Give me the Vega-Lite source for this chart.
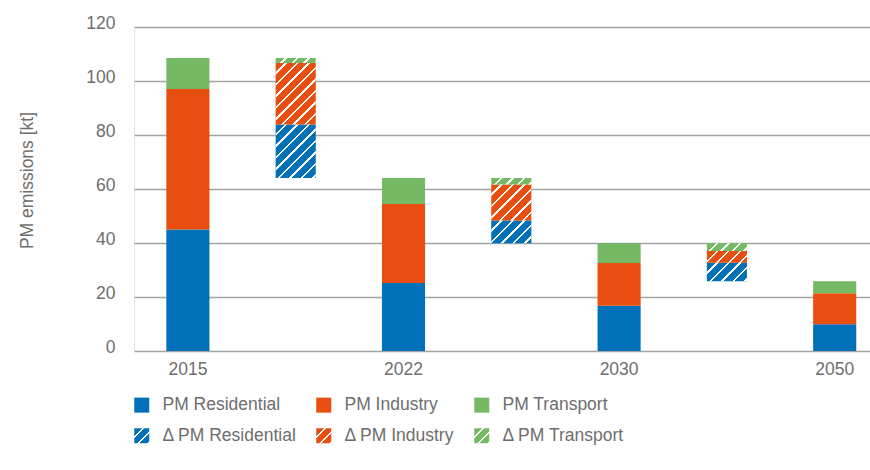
{
  "$schema": "https://vega.github.io/schema/vega-lite/v6.json",
  "autosize": "none",
  "padding": {"left": 134, "top": 27, "right": 0, "bottom": 119},
  "width": 736,
  "height": 324,
  "config": {
    "font": "Liberation Sans",
    "view": {"stroke": null},
    "axis": {"labelFont": "Liberation Sans", "titleFont": "Liberation Sans", "labelColor": "#6e6e6e", "titleColor": "#6e6e6e", "labelFontSize": 17.5, "titleFontSize": 17.5, "titleFontWeight": "normal"}
  },
  "data": {
    "values": [
      {"bar": "2015", "type": "level", "sector": "PM Residential", "k": 1, "v": 45.0},
      {"bar": "2015", "type": "level", "sector": "PM Industry", "k": 2, "v": 52.0},
      {"bar": "2015", "type": "level", "sector": "PM Transport", "k": 3, "v": 11.5},
      {"bar": "2015–2022", "type": "change", "sector": "Next total", "k": 0, "v": 64.1},
      {"bar": "2015–2022", "type": "change", "sector": "Δ PM Residential", "k": 1, "v": 19.8},
      {"bar": "2015–2022", "type": "change", "sector": "Δ PM Industry", "k": 2, "v": 22.8},
      {"bar": "2015–2022", "type": "change", "sector": "Δ PM Transport", "k": 3, "v": 1.8},
      {"bar": "2022", "type": "level", "sector": "PM Residential", "k": 1, "v": 25.2},
      {"bar": "2022", "type": "level", "sector": "PM Industry", "k": 2, "v": 29.2},
      {"bar": "2022", "type": "level", "sector": "PM Transport", "k": 3, "v": 9.7},
      {"bar": "2022–2030", "type": "change", "sector": "Next total", "k": 0, "v": 39.9},
      {"bar": "2022–2030", "type": "change", "sector": "Δ PM Residential", "k": 1, "v": 8.4},
      {"bar": "2022–2030", "type": "change", "sector": "Δ PM Industry", "k": 2, "v": 13.4},
      {"bar": "2022–2030", "type": "change", "sector": "Δ PM Transport", "k": 3, "v": 2.4},
      {"bar": "2030", "type": "level", "sector": "PM Residential", "k": 1, "v": 16.8},
      {"bar": "2030", "type": "level", "sector": "PM Industry", "k": 2, "v": 15.8},
      {"bar": "2030", "type": "level", "sector": "PM Transport", "k": 3, "v": 7.3},
      {"bar": "2030–2050", "type": "change", "sector": "Next total", "k": 0, "v": 25.8},
      {"bar": "2030–2050", "type": "change", "sector": "Δ PM Residential", "k": 1, "v": 6.9},
      {"bar": "2030–2050", "type": "change", "sector": "Δ PM Industry", "k": 2, "v": 4.3},
      {"bar": "2030–2050", "type": "change", "sector": "Δ PM Transport", "k": 3, "v": 2.9},
      {"bar": "2050", "type": "level", "sector": "PM Residential", "k": 1, "v": 9.9},
      {"bar": "2050", "type": "level", "sector": "PM Industry", "k": 2, "v": 11.5},
      {"bar": "2050", "type": "level", "sector": "PM Transport", "k": 3, "v": 4.4}
    ]
  },
  "encoding": {
    "x": {
      "field": "bar", "type": "nominal", "sort": null,
      "scale": {"domain": ["2015", "2015–2022", "2022", "2022–2030", "2030", "2030–2050", "2050"], "range": [0, 754.6], "paddingInner": 0.6, "paddingOuter": 0.3},
      "axis": {"title": null, "labelAngle": 0, "domain": false, "ticks": false, "tickSize": 0, "labelPadding": 9, "labelExpr": "length(datum.label) > 4 ? '' : datum.label", "grid": false}
    },
    "y": {
      "field": "v", "type": "quantitative", "stack": "zero",
      "scale": {"domain": [0, 120], "nice": false},
      "axis": {"title": "PM emissions [kt]", "values": [0, 20, 40, 60, 80, 100, 120], "grid": true, "gridColor": "#a3a3a3", "gridWidth": 1.4, "ticks": false, "tickSize": 0, "labelPadding": 19, "labelBaseline": "alphabetic", "labelOffset": 1, "domain": true, "domainColor": "#c4c4c4", "domainDash": [1, 1], "domainWidth": 1, "titleX": -102, "titleY": 153, "titleAngle": -90, "titleAlign": "center", "titleBaseline": "alphabetic"}
    }
  },
  "layer": [
    {
      "transform": [{"filter": "datum.type == 'level'"}],
      "mark": {"type": "bar"},
      "encoding": {
        "order": {"field": "k", "type": "quantitative"},
        "fill": {
          "field": "sector", "type": "nominal",
          "scale": {
            "domain": ["PM Residential", "PM Industry", "PM Transport", "Δ PM Residential", "Δ PM Industry", "Δ PM Transport"],
            "range": [
              "#0070b8", "#e84e0f", "#76b964",
              {"expr": "{gradient: 'linear', x1: 0, y1: 0, x2: 1, y2: 1, stops: [{offset: 0, color: '#0070b8'}, {offset: 0.27, color: '#0070b8'}, {offset: 0.27, color: 'white'}, {offset: 0.333, color: 'white'}, {offset: 0.333, color: '#0070b8'}, {offset: 0.6, color: '#0070b8'}, {offset: 0.6, color: 'white'}, {offset: 0.667, color: 'white'}, {offset: 0.667, color: '#0070b8'}, {offset: 0.933, color: '#0070b8'}, {offset: 0.933, color: 'white'}, {offset: 1, color: 'white'}]}"},
              {"expr": "{gradient: 'linear', x1: 0, y1: 0, x2: 1, y2: 1, stops: [{offset: 0, color: '#e84e0f'}, {offset: 0.27, color: '#e84e0f'}, {offset: 0.27, color: 'white'}, {offset: 0.333, color: 'white'}, {offset: 0.333, color: '#e84e0f'}, {offset: 0.6, color: '#e84e0f'}, {offset: 0.6, color: 'white'}, {offset: 0.667, color: 'white'}, {offset: 0.667, color: '#e84e0f'}, {offset: 0.933, color: '#e84e0f'}, {offset: 0.933, color: 'white'}, {offset: 1, color: 'white'}]}"},
              {"expr": "{gradient: 'linear', x1: 0, y1: 0, x2: 1, y2: 1, stops: [{offset: 0, color: '#76b964'}, {offset: 0.27, color: '#76b964'}, {offset: 0.27, color: 'white'}, {offset: 0.333, color: 'white'}, {offset: 0.333, color: '#76b964'}, {offset: 0.6, color: '#76b964'}, {offset: 0.6, color: 'white'}, {offset: 0.667, color: 'white'}, {offset: 0.667, color: '#76b964'}, {offset: 0.933, color: '#76b964'}, {offset: 0.933, color: 'white'}, {offset: 1, color: 'white'}]}"}
            ]
          },
          "legend": {
            "title": null, "orient": "none", "legendX": -1, "legendY": 369, "direction": "horizontal", "columns": 3,
            "symbolType": "square", "symbolSize": 225, "symbolStrokeWidth": 0, "symbolOpacity": 1,
            "labelFont": "Liberation Sans", "labelFontSize": 17.5, "labelColor": "#6e6e6e", "labelOffset": 12, "labelLimit": 300,
            "columnPadding": 18, "rowPadding": 12, "padding": 0
          }
        }
      }
    },
    {
      "transform": [{"filter": "datum.type == 'change'"}],
      "mark": {"type": "bar", "width": {"band": 0.93}},
      "encoding": {
        "order": {"field": "k", "type": "quantitative"},
        "color": {
          "field": "sector", "type": "nominal",
          "scale": {"domain": ["Next total", "Δ PM Residential", "Δ PM Industry", "Δ PM Transport"], "range": ["transparent", "#0070b8", "#e84e0f", "#76b964"]},
          "legend": null
        }
      }
    },
    {
      "transform": [{"filter": "datum.type == 'change'"}],
      "mark": {
        "type": "bar", "width": {"band": 0.93},
        "fill": {"expr": "datum.k == 0 ? 'transparent' : {gradient: 'linear', x1: 0, y1: 0, x2: (bandwidth('x')*0.93/138) / (pow(bandwidth('x')*0.93/138, 2) + pow(abs(scale('y', datum.v_end) - scale('y', datum.v_start))/138, 2)), y2: (abs(scale('y', datum.v_end) - scale('y', datum.v_start))/138) / (pow(bandwidth('x')*0.93/138, 2) + pow(abs(scale('y', datum.v_end) - scale('y', datum.v_start))/138, 2)), stops: [{offset: 0, color: 'rgba(255,255,255,0)'}, {offset: 0.0663, color: 'rgba(255,255,255,0)'}, {offset: 0.0663, color: 'white'}, {offset: 0.0833, color: 'white'}, {offset: 0.0833, color: 'rgba(255,255,255,0)'}, {offset: 0.1497, color: 'rgba(255,255,255,0)'}, {offset: 0.1497, color: 'white'}, {offset: 0.1667, color: 'white'}, {offset: 0.1667, color: 'rgba(255,255,255,0)'}, {offset: 0.2330, color: 'rgba(255,255,255,0)'}, {offset: 0.2330, color: 'white'}, {offset: 0.25, color: 'white'}, {offset: 0.25, color: 'rgba(255,255,255,0)'}, {offset: 0.3163, color: 'rgba(255,255,255,0)'}, {offset: 0.3163, color: 'white'}, {offset: 0.3333, color: 'white'}, {offset: 0.3333, color: 'rgba(255,255,255,0)'}, {offset: 0.3997, color: 'rgba(255,255,255,0)'}, {offset: 0.3997, color: 'white'}, {offset: 0.4167, color: 'white'}, {offset: 0.4167, color: 'rgba(255,255,255,0)'}, {offset: 0.4830, color: 'rgba(255,255,255,0)'}, {offset: 0.4830, color: 'white'}, {offset: 0.5, color: 'white'}, {offset: 0.5, color: 'rgba(255,255,255,0)'}, {offset: 0.5663, color: 'rgba(255,255,255,0)'}, {offset: 0.5663, color: 'white'}, {offset: 0.5833, color: 'white'}, {offset: 0.5833, color: 'rgba(255,255,255,0)'}, {offset: 0.6497, color: 'rgba(255,255,255,0)'}, {offset: 0.6497, color: 'white'}, {offset: 0.6667, color: 'white'}, {offset: 0.6667, color: 'rgba(255,255,255,0)'}, {offset: 0.7330, color: 'rgba(255,255,255,0)'}, {offset: 0.7330, color: 'white'}, {offset: 0.75, color: 'white'}, {offset: 0.75, color: 'rgba(255,255,255,0)'}, {offset: 0.8163, color: 'rgba(255,255,255,0)'}, {offset: 0.8163, color: 'white'}, {offset: 0.8333, color: 'white'}, {offset: 0.8333, color: 'rgba(255,255,255,0)'}, {offset: 0.8997, color: 'rgba(255,255,255,0)'}, {offset: 0.8997, color: 'white'}, {offset: 0.9167, color: 'white'}, {offset: 0.9167, color: 'rgba(255,255,255,0)'}, {offset: 0.9830, color: 'rgba(255,255,255,0)'}, {offset: 0.9830, color: 'white'}, {offset: 1, color: 'white'}]}"}
      },
      "encoding": {
        "order": {"field": "k", "type": "quantitative"},
        "detail": {"field": "sector", "type": "nominal"}
      }
    }
  ]
}
